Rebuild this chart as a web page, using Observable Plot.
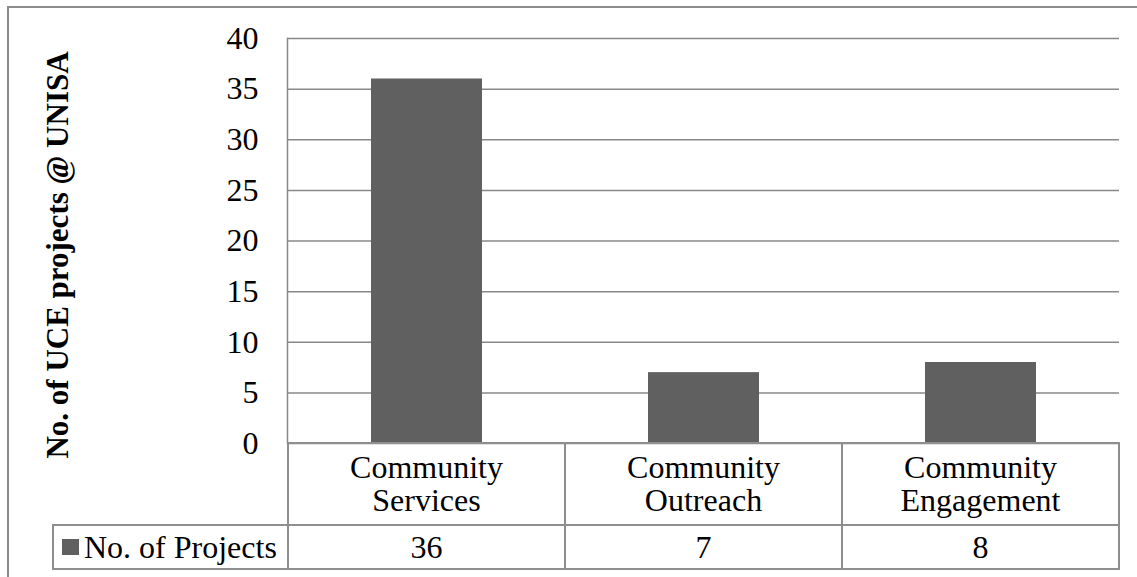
<!DOCTYPE html>
<html><head><meta charset="utf-8">
<script src="https://cdn.jsdelivr.net/npm/d3@7"></script>
<script src="https://cdn.jsdelivr.net/npm/@observablehq/plot@0.6"></script>
<style>
body{margin:0;background:#fff;font-family:"Liberation Serif","Times New Roman",serif;}
#wrap{position:relative;width:1137px;height:577px;overflow:hidden;background:#fff;}
#frame{position:absolute;left:7px;top:6px;width:1200px;height:700px;border-left:2px solid #8c8c8c;border-top:2px solid #8c8c8c;}
#chart{position:absolute;left:0;top:0;}
.cell{position:absolute;box-sizing:border-box;border:2px solid #8e8e8e;display:flex;align-items:center;justify-content:center;text-align:center;font-size:32px;line-height:33px;color:#000;white-space:pre-line;}
</style></head>
<body>
<div id="wrap"><div id="frame"></div><div id="chart"></div></div>
<script>
const categories = ["Community Services", "Community Outreach", "Community Engagement"];
const projects = [36, 7, 8];
const seriesName = "No. of Projects";
const yTicks = [0, 5, 10, 15, 20, 25, 30, 35, 40];
const yTitle = "No. of UCE projects @ UNISA";

const data = categories.map((c, i) => ({category: c, value: projects[i]}));
const barColor = "#606060";

const plot = Plot.plot({
  width: 1137,
  height: 444,
  marginLeft: 287,
  marginRight: 18,
  marginTop: 38,
  marginBottom: 1,
  style: {fontFamily: "'Liberation Serif','Times New Roman',serif", fontSize: "32px", color: "#000", background: "transparent", overflow: "visible"},
  x: {domain: categories, padding: 0, axis: null},
  y: {domain: [0, 40], ticks: yTicks, label: null},
  marks: [
    Plot.gridY(yTicks, {stroke: "#888", strokeOpacity: 1, strokeWidth: 1.5}),
    Plot.frame({anchor: "left", stroke: "#888", strokeWidth: 1.5}),
    Plot.axisY(yTicks, {tickSize: 0, tickPadding: 29, label: null, tickFormat: d => String(d)}),
    Plot.barY(data, {x: "category", y: "value", fill: barColor, insetLeft: 83, insetRight: 83}),
    Plot.text([yTitle], {frameAnchor: "left", textAnchor: "middle", lineAnchor: "middle", rotate: -90, dx: -229, dy: 14, fontWeight: "bold", fontSize: 31, fill: "#000"})
  ]
});
document.getElementById("chart").appendChild(plot);

// data table below the chart, aligned with the plot's x scale
const xs = plot.scale("x");
const step = xs.step;
const wrap = document.getElementById("wrap");
const row1Top = 443, row1H = 82, row2Top = 525, row2H = 44;
function cell(left, top, w, h, content) {
  const d = document.createElement("div");
  d.className = "cell";
  d.style.left = (left - 1) + "px";
  d.style.top = (top - 1) + "px";
  d.style.width = (w + 2) + "px";
  d.style.height = (h + 2) + "px";
  if (typeof content === "string") d.textContent = content; else d.appendChild(content);
  wrap.appendChild(d);
  return d;
}
categories.forEach((c, i) => {
  const left = xs.apply(c);
  cell(left, row1Top, step, row1H, c.replace(" ", "\n"));
  cell(left, row2Top, step, row2H, String(projects[i]));
});
const legendLeft = 53;
const firstLeft = xs.apply(categories[0]);
const leg = document.createElement("span");
leg.style.display = "inline-flex";
leg.style.alignItems = "center";
const sw = document.createElement("span");
sw.style.cssText = `display:inline-block;width:17px;height:16px;background:${barColor};margin-right:5px;`;
leg.appendChild(sw);
leg.appendChild(document.createTextNode(seriesName));
const lc = cell(legendLeft, row2Top, firstLeft - legendLeft, row2H, leg);
lc.style.justifyContent = "flex-start";
lc.style.paddingLeft = "8px";
</script>
</body></html>
